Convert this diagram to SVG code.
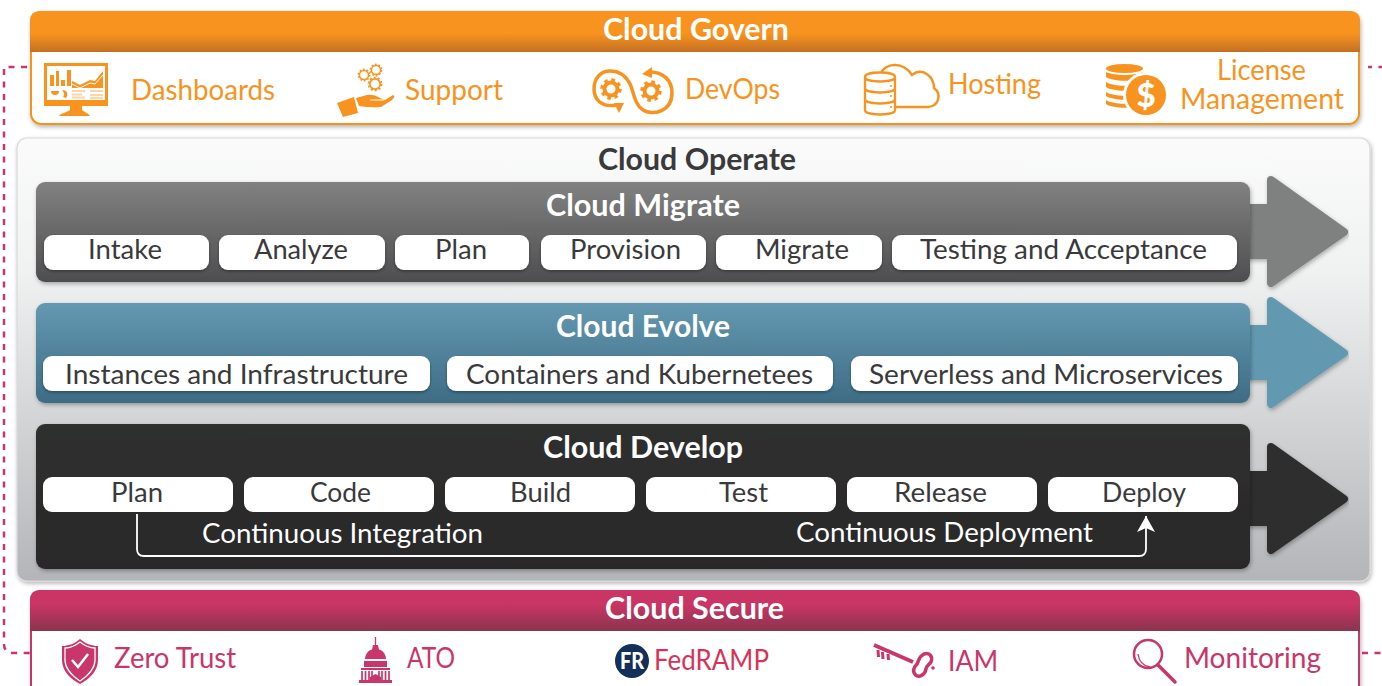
<svg xmlns="http://www.w3.org/2000/svg" xmlns:xlink="http://www.w3.org/1999/xlink" width="1382" height="686" viewBox="0 0 1382 686">
<style>
text{font-family:"Lato","Carlito","Liberation Sans",sans-serif}
.title{font-weight:700;font-size:30px;fill:#fff;text-anchor:start}
.dark{fill:#3a3a3c}
.pill{fill:#fff}
.pt{font-size:27px;fill:#3a3a3c}
.ct{font-size:27px;fill:#fff}
.o{font-size:28px;fill:#f7931e}
.s{font-size:28px;fill:#c8366a}
.fo{fill:#f7931e}.lo{fill:none;stroke:#f7931e}
.fs{fill:#c8366a}.ls{fill:none;stroke:#c8366a}
.dash{fill:none;stroke:#c8366a;stroke-width:2.500;stroke-dasharray:6 6.500}
</style>
<defs>
<linearGradient id="gOr" x1="0" y1="0" x2="0" y2="1"><stop offset="0" stop-color="#f7931e"/><stop offset=".55" stop-color="#f7931e"/><stop offset="1" stop-color="#c46f23"/></linearGradient>
<linearGradient id="gSe" x1="0" y1="0" x2="0" y2="1"><stop offset="0" stop-color="#c93564"/><stop offset=".35" stop-color="#c93564"/><stop offset="1" stop-color="#8b344f"/></linearGradient>
<linearGradient id="gOp" x1="0" y1="0" x2="0" y2="1"><stop offset="0" stop-color="#fbfbfb"/><stop offset=".3" stop-color="#f0f1f1"/><stop offset="1" stop-color="#b3b5b8"/></linearGradient>
<linearGradient id="gMi" x1="0" y1="0" x2="0" y2="1"><stop offset="0" stop-color="#818181"/><stop offset="1" stop-color="#4e4e50"/></linearGradient>
<linearGradient id="gEv" x1="0" y1="0" x2="0" y2="1"><stop offset="0" stop-color="#6499b1"/><stop offset="1" stop-color="#3e6c85"/></linearGradient>
<linearGradient id="gDe" x1="0" y1="0" x2="0" y2="1"><stop offset="0" stop-color="#2f302f"/><stop offset="1" stop-color="#2a2829"/></linearGradient>
<filter id="sh" x="-5%" y="-10%" width="110%" height="125%"><feDropShadow dx="1" dy="2" stdDeviation="2" flood-color="#000" flood-opacity=".3"/></filter>
<filter id="shp" x="-5%" y="-20%" width="110%" height="150%"><feDropShadow dx="0" dy="1.500" stdDeviation="1.500" flood-color="#000" flood-opacity=".35"/></filter>
<marker id="ah" markerUnits="userSpaceOnUse" markerWidth="20" markerHeight="18" refX="16" refY="9" orient="auto"><path d="M0 0 L16 9 L0 18 L4 9 Z" fill="#fff"/></marker>
<path id="arrowShape" d="M0 32 H22 V4 L95 56 L22 107 V79 H0 Z" stroke-width="8" stroke-linejoin="round"/>
<g id="gearB"><circle r="6.500" fill="none" stroke-width="4"/><circle r="9" fill="none" stroke-width="3.500" stroke-dasharray="3.500 3.570"/></g>
<g id="gearS"><circle r="4.500" fill="none" stroke-width="1.500"/><circle r="5.700" fill="none" stroke-width="1.400" stroke-dasharray="1.800 1.780"/></g>
</defs>

<g id="cloud-operate">
<rect x="17" y="138" width="1353" height="443" rx="10" fill="url(#gOp)" stroke="#d9d9d9" stroke-width="1.200" filter="url(#sh)"/>
<text class="title dark" x="598" y="170" textLength="198" lengthAdjust="spacingAndGlyphs">Cloud Operate</text>
</g>

<g id="cloud-migrate">
<use xlink:href="#arrowShape" href="#arrowShape" x="1249" y="176" fill="#7f8180" stroke="#7f8180" filter="url(#sh)"/>
<rect x="36" y="182" width="1214" height="100" rx="9" fill="url(#gMi)" filter="url(#sh)"/>
<text class="title" x="546" y="216" textLength="194" lengthAdjust="spacingAndGlyphs">Cloud Migrate</text>
<g filter="url(#shp)" class="pill">
<rect x="44" y="235" width="165" height="35" rx="9"/><rect x="219" y="235" width="166" height="35" rx="9"/><rect x="395" y="235" width="134" height="35" rx="9"/><rect x="541" y="235" width="165" height="35" rx="9"/><rect x="716" y="235" width="166" height="35" rx="9"/><rect x="892" y="235" width="345" height="35" rx="9"/>
</g>
<text class="pt" x="88" y="259" textLength="74" lengthAdjust="spacingAndGlyphs">Intake</text>
<text class="pt" x="254" y="259" textLength="94" lengthAdjust="spacingAndGlyphs">Analyze</text>
<text class="pt" x="435" y="259" textLength="52" lengthAdjust="spacingAndGlyphs">Plan</text>
<text class="pt" x="570" y="259" textLength="111" lengthAdjust="spacingAndGlyphs">Provision</text>
<text class="pt" x="755" y="259" textLength="94" lengthAdjust="spacingAndGlyphs">Migrate</text>
<text class="pt" x="920" y="259" textLength="287" lengthAdjust="spacingAndGlyphs">Testing and Acceptance</text>
</g>

<g id="cloud-evolve">
<use xlink:href="#arrowShape" href="#arrowShape" x="1249" y="297" fill="#6299b1" stroke="#6299b1" filter="url(#sh)"/>
<rect x="36" y="303" width="1214" height="100" rx="9" fill="url(#gEv)" filter="url(#sh)"/>
<text class="title" x="556" y="337" textLength="174" lengthAdjust="spacingAndGlyphs">Cloud Evolve</text>
<g filter="url(#shp)" class="pill">
<rect x="43" y="356" width="387" height="35" rx="9"/><rect x="447" y="356" width="386" height="35" rx="9"/><rect x="851" y="356" width="387" height="35" rx="9"/>
</g>
<text class="pt" x="65" y="384" textLength="343" lengthAdjust="spacingAndGlyphs">Instances and Infrastructure</text>
<text class="pt" x="466" y="384" textLength="347" lengthAdjust="spacingAndGlyphs">Containers and Kubernetees</text>
<text class="pt" x="869" y="384" textLength="354" lengthAdjust="spacingAndGlyphs">Serverless and Microservices</text>
</g>

<g id="cloud-develop">
<use xlink:href="#arrowShape" href="#arrowShape" x="1249" y="443" fill="#2d2f2e" stroke="#2d2f2e" filter="url(#sh)"/>
<rect x="36" y="424" width="1214" height="145" rx="9" fill="url(#gDe)" filter="url(#sh)"/>
<text class="title" x="543" y="458" textLength="200" lengthAdjust="spacingAndGlyphs">Cloud Develop</text>
<g class="pill">
<rect x="43" y="477" width="190" height="35" rx="9"/><rect x="244" y="477" width="190" height="35" rx="9"/><rect x="445" y="477" width="190" height="35" rx="9"/><rect x="646" y="477" width="190" height="35" rx="9"/><rect x="847" y="477" width="190" height="35" rx="9"/><rect x="1048" y="477" width="190" height="35" rx="9"/>
</g>
<text class="pt" x="111" y="502" textLength="52" lengthAdjust="spacingAndGlyphs">Plan</text>
<text class="pt" x="310" y="502" textLength="61" lengthAdjust="spacingAndGlyphs">Code</text>
<text class="pt" x="510" y="502" textLength="61" lengthAdjust="spacingAndGlyphs">Build</text>
<text class="pt" x="719" y="502" textLength="49" lengthAdjust="spacingAndGlyphs">Test</text>
<text class="pt" x="894" y="502" textLength="93" lengthAdjust="spacingAndGlyphs">Release</text>
<text class="pt" x="1102" y="502" textLength="84" lengthAdjust="spacingAndGlyphs">Deploy</text>
<text class="ct" x="202" y="543" textLength="281" lengthAdjust="spacingAndGlyphs">Continuous Integration</text>
<text class="ct" x="796" y="542" textLength="297" lengthAdjust="spacingAndGlyphs">Continuous Deployment</text>
</g>

<g id="connectors">
<path d="M137 514 V549 Q137 556 144 556 H1139 Q1146 556 1146 549 V516" fill="none" stroke="#fff" stroke-width="1.800" marker-end="url(#ah)"/>
<path class="dash" d="M27 67 H4 V644 Q4 653 14 653 H30"/>
<path class="dash" d="M1368 67 H1382" stroke-dashoffset="2"/>
<path class="dash" d="M1362 653 H1382"/>
</g>

<g id="cloud-govern">
<rect x="31" y="12" width="1328" height="112" rx="10" fill="#fff" stroke="#f7931e" stroke-width="2" filter="url(#sh)"/>
<path d="M30 52 V21 Q30 11 40 11 H1350 Q1360 11 1360 21 V52 Z" fill="url(#gOr)"/>
<text class="title" x="603" y="40" textLength="186" lengthAdjust="spacingAndGlyphs">Cloud Govern</text>

<g id="dashboards">
<path d="M44 63 H108 V106 H44 Z M47 66 V100 H105 V66 Z" class="fo" fill-rule="evenodd"/>
<path d="M70 106 H82 V110 C84 112 88 113 90 116 H59 C61 113 68 112 70 110 Z" class="fo"/>
<path d="M50 75 H54 V86 H50 Z M56 71 H59 V86 H56 Z M61 80 H65 V86 H61 Z M67 70 H71 V86 H67 Z" class="fo"/>
<path d="M72 88 V81 L80 85 L90 80 L95 81 L103 71 V88 Z" class="fo"/>
<path d="M72 84 L80 88 L90 83 L95 84 L103 75" fill="none" stroke="#fff" stroke-width="1"/>
<path d="M51 91 H59 A4 4 0 0 1 51 91 Z M62 90 C67 90 69 94 66 98 L63 97 C65 95 64 92 62 90 Z" class="fo"/>
<path d="M72 91 H85 M72 94.500 H82 M72 97.500 H85 M90 91 H103 M90 95 H103 M90 98 H103" stroke="#fcd5a8" stroke-width="2.200"/>
<text class="o" x="131" y="100" textLength="144" lengthAdjust="spacingAndGlyphs">Dashboards</text>
</g>

<g id="support">
<use xlink:href="#gearS" href="#gearS" transform="translate(364 75)" stroke="#f7931e"/>
<use xlink:href="#gearS" href="#gearS" transform="translate(376 70)" stroke="#f7931e"/>
<use xlink:href="#gearS" href="#gearS" transform="translate(375 84) scale(1.150)" stroke="#f7931e"/>
<path d="M337 103 L354 97 L358 113 L343 117 Z" class="fo"/>
<path d="M356 98 L367 95 Q374 94 380 98 L385 100 L393 95 Q396 96 392 100 L381 107 Q370 108 359 106 Z" class="fo"/>
<path d="M370 100 L384 100" stroke="#fff" stroke-width="1"/>
<text class="o" x="405" y="100" textLength="98" lengthAdjust="spacingAndGlyphs">Support</text>
</g>

<g id="devops">
<path d="M617 105 C600 108 594 98 594 89 C594 78 601 71 610 71 C620 71 626 76 630 84 C634 92 634 104 643 110 C652 116 672 112 672 93 C672 80 663 72 650 72" class="lo" stroke-width="3.500"/>
<path d="M614 103 L624 103 L619 113 Z M642 74 L652 67 L652 78 Z" class="fo"/>
<use xlink:href="#gearB" href="#gearB" transform="translate(611 89)" stroke="#f7931e"/>
<use xlink:href="#gearB" href="#gearB" transform="translate(651 91)" stroke="#f7931e"/>
<text class="o" x="685" y="99" textLength="95" lengthAdjust="spacingAndGlyphs">DevOps</text>
</g>

<g id="hosting">
<path d="M881 73 C885 64 902 60 912 75 C922 67 934 76 934 88 C942 94 939 107 927 107 H896" class="lo" stroke-width="2.500"/>
<path d="M865 77 C865 71 895 71 895 77 V110 C895 116 865 116 865 110 Z M865 77 C865 83 895 83 895 77 M865 88 C865 94 895 94 895 88 M865 99 C865 105 895 105 895 99" fill="#fff" stroke="#f7931e" stroke-width="2.300"/>
<circle cx="891" cy="86" r="1" class="fo"/><circle cx="891" cy="96" r="1" class="fo"/><circle cx="891" cy="107" r="1" class="fo"/>
<text class="o" x="948" y="94" textLength="93" lengthAdjust="spacingAndGlyphs">Hosting</text>
</g>

<g id="license">
<ellipse cx="1124.500" cy="68.500" rx="18.500" ry="4.500" class="fo"/>
<path d="M1106 72 C1114 76 1135 76 1143 72 V77 C1135 82 1114 82 1106 77 Z M1106 82 C1114 87 1135 87 1143 82 V87 C1135 92 1114 92 1106 87 Z M1106 92 C1114 97 1135 97 1143 92 V96 C1135 101 1114 101 1106 96 Z M1106 100 C1114 105 1135 105 1143 100 V104 C1135 109 1114 109 1106 104 Z" class="fo"/>
<circle cx="1146" cy="95" r="23" fill="#fff"/>
<circle cx="1146" cy="95" r="20" class="fo"/>
<text x="1146" y="107" font-size="33" font-weight="900" fill="#fff" text-anchor="middle">$</text>
<text class="o" x="1217" y="80" textLength="89" lengthAdjust="spacingAndGlyphs">License</text>
<text class="o" x="1180" y="109" textLength="164" lengthAdjust="spacingAndGlyphs">Management</text>
</g>
</g>

<g id="cloud-secure">
<rect x="31" y="591" width="1328" height="120" rx="10" fill="#fff" stroke="#c8366a" stroke-width="2" filter="url(#sh)"/>
<path d="M30 631 V600 Q30 590 40 590 H1350 Q1360 590 1360 600 V631 Z" fill="url(#gSe)"/>
<text class="title" x="605" y="619" textLength="179" lengthAdjust="spacingAndGlyphs">Cloud Secure</text>

<g id="zero-trust">
<path d="M80 639 C86 644 92 646 98 646 V660 C98 672 88 680 80 684 C72 680 62 672 62 660 V646 C68 646 74 644 80 639 Z" class="fs"/>
<path d="M80 642 C85 646 90 648 95 648 V660 C95 670 86 677 80 681 C74 677 65 670 65 660 V648 C70 648 75 646 80 642 Z" fill="none" stroke="#fff" stroke-width="1.300"/>
<path d="M72 660 L78 667 L88 654" fill="none" stroke="#fff" stroke-width="2.500"/>
<text class="s" x="114" y="668" textLength="122" lengthAdjust="spacingAndGlyphs">Zero Trust</text>
</g>

<g id="ato">
<path d="M375.500 637 V645" class="ls" stroke-width="1.300"/>
<path d="M373 645 H378 L379 650 H372 Z" class="fs"/>
<path d="M375.500 649 C382 649 385.500 653 386 659 H365 C365.500 653 369 649 375.500 649 Z" class="fs"/>
<path d="M364 661 H387 V667 H364 Z" class="fs"/>
<path d="M361 668 H390 V670 H361 Z" class="fs"/>
<path d="M362 671 V680 M365.500 671 V680 M369 671 V680 M372 671 V680 M379 671 V680 M382 671 V680 M385.500 671 V680 M389 671 V680" class="ls" stroke-width="1.700"/>
<path d="M370 677 L375.500 674 L381 677 V680 H370 Z" class="fs"/>
<path d="M359 680 H392 V683 H359 Z" class="fs"/>
<text class="s" x="407" y="668" textLength="48" lengthAdjust="spacingAndGlyphs">ATO</text>
</g>

<g id="fedramp">
<circle cx="632" cy="661" r="17" fill="#14305a"/>
<text x="620" y="669" font-size="22" font-weight="900" fill="#fff" textLength="24" lengthAdjust="spacingAndGlyphs">FR</text>
<text x="654" y="670" font-size="28" fill="#d8325a" textLength="115" lengthAdjust="spacingAndGlyphs">FedRAMP</text>
</g>

<g id="iam">
<path d="M874 645 L913 662" class="ls" stroke-width="4"/>
<path d="M878 650 L878.500 657 M882.500 652 L883 659 M888 654 L888.500 660" class="ls" stroke-width="3"/>
<path d="M924 654 C930 652 933 657 931 662 C929 665 926 666 926 669 C925 675 919 678 915.500 675 C912 671 914 667 917 664 C919 661 918 657 924 654 Z" class="ls" stroke-width="3.500"/>
<circle cx="933" cy="668" r="1.800" class="fs"/>
<text class="s" x="948" y="671" textLength="50" lengthAdjust="spacingAndGlyphs">IAM</text>
</g>

<g id="monitoring">
<circle cx="1148" cy="654" r="14" class="ls" stroke-width="2.500"/>
<path d="M1138 654 C1139 662 1144 666 1150 667" class="ls" stroke-width="1.300"/>
<path d="M1158 665 L1175 682" class="ls" stroke-width="3.500" stroke-linecap="round"/>
<text class="s" x="1184" y="668" textLength="137" lengthAdjust="spacingAndGlyphs">Monitoring</text>
</g>
</g>
</svg>
